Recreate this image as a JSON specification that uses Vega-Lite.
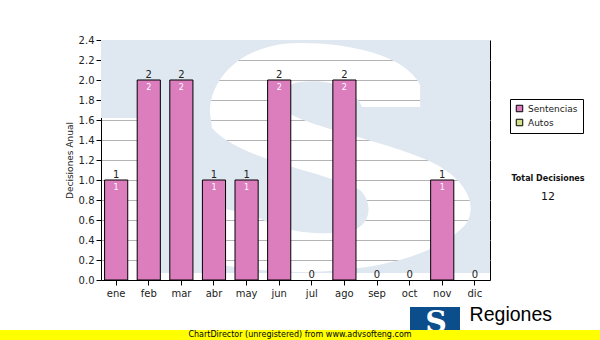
{
  "$schema": "https://vega.github.io/schema/vega-lite/v6.json",
  "padding": {"top": 34, "left": 0, "right": 0, "bottom": 0},
  "background": "white",
  "bounds": "flush",
  "spacing": 290,
  "config": {
    "font": "DejaVu Sans",
    "concat": {"spacing": 0}
  },
  "datasets": {
    "decisiones": [
      {"mes": "ene", "tipo": "Sentencias", "valor": 1},
      {"mes": "feb", "tipo": "Sentencias", "valor": 2},
      {"mes": "mar", "tipo": "Sentencias", "valor": 2},
      {"mes": "abr", "tipo": "Sentencias", "valor": 1},
      {"mes": "may", "tipo": "Sentencias", "valor": 1},
      {"mes": "jun", "tipo": "Sentencias", "valor": 2},
      {"mes": "jul", "tipo": "Sentencias", "valor": 0},
      {"mes": "ago", "tipo": "Sentencias", "valor": 2},
      {"mes": "sep", "tipo": "Sentencias", "valor": 0},
      {"mes": "oct", "tipo": "Sentencias", "valor": 0},
      {"mes": "nov", "tipo": "Sentencias", "valor": 1},
      {"mes": "dic", "tipo": "Sentencias", "valor": 0}
    ]
  },
  "vconcat": [
    {
      "bounds": "flush",
      "spacing": 0,
      "hconcat": [
        {
          "width": 101,
          "height": 240,
          "view": {"stroke": null},
          "data": {"values": [{"t": ""}]},
          "mark": {"type": "text"},
          "encoding": {"text": {"field": "t"}}
        },
        {
          "width": 389,
          "height": 240,
          "view": {"stroke": "black", "strokeWidth": 1},
          "layer": [
            {
              "data": {"values": [{"marca": "logo"}]},
              "mark": {
                "type": "point",
                "filled": true,
                "clip": true,
                "color": "#dfe8f1",
                "opacity": 1,
                "size": 160000,
                "shape": "M-1.003,-0.65L0.983,-0.65L0.983,0.565L-0.703,0.565L-0.703,-0.21L-1.003,-0.21Z M0.023,-0.585C-0.278,-0.585,-0.428,-0.4,-0.428,-0.24L-0.418,-0.16C-0.278,0,0.123,0.05,0.323,0.15C0.398,0.225,0.373,0.35,0.248,0.36C0.073,0.38,-0.103,0.35,-0.203,0.275L-0.453,0.225L-0.453,0.51C-0.2,0.56,0.023,0.56,0.023,0.56C0.3,0.56,0.673,0.51,0.848,0.325C0.923,0.225,0.848,0.075,0.633,-0.01C0.423,-0.1,0.023,-0.175,-0.053,-0.25C-0.088,-0.325,-0.053,-0.38,0.023,-0.39C0.173,-0.41,0.298,-0.36,0.333,-0.265L0.623,-0.265L0.623,-0.375C0.548,-0.525,0.273,-0.585,0.023,-0.585Z"
              },
              "encoding": {}
            },
            {
              "data": {"name": "decisiones"},
              "encoding": {
                "x": {
                  "field": "mes",
                  "type": "ordinal",
                  "sort": ["ene", "feb", "mar", "abr", "may", "jun", "jul", "ago", "sep", "oct", "nov", "dic"],
                  "scale": {"paddingInner": 0.29, "paddingOuter": 0.11},
                  "axis": {
                    "title": null,
                    "labelAngle": 0,
                    "labelFont": "DejaVu Sans",
                    "labelFontSize": 10,
                    "labelColor": "#222",
                    "labelPadding": 3,
                    "domainColor": "black",
                    "tickColor": "black",
                    "tickSize": 5,
                    "grid": false
                  }
                },
                "y": {
                  "field": "valor",
                  "type": "quantitative",
                  "scale": {"domain": [0, 2.4], "nice": false},
                  "axis": {
                    "title": "Decisiones Anual",
                    "titleFont": "DejaVu Sans",
                    "titleFontSize": 9,
                    "titleFontWeight": "normal",
                    "titleColor": "#222",
                    "titlePadding": 4,
                    "values": [0, 0.2, 0.4, 0.6, 0.8, 1.0, 1.2, 1.4, 1.6, 1.8, 2.0, 2.2, 2.4],
                    "format": ".1f",
                    "labelFont": "DejaVu Sans",
                    "labelFontSize": 10,
                    "labelColor": "#222",
                    "labelPadding": 2,
                    "domainColor": "black",
                    "tickColor": "black",
                    "tickSize": 5,
                    "grid": true,
                    "gridColor": "#b4b4b4",
                    "gridWidth": 1
                  }
                }
              },
              "layer": [
                {
                  "transform": [{"filter": "datum.valor > 0"}],
                  "mark": {"type": "bar", "stroke": "black", "strokeWidth": 1},
                  "encoding": {
                    "color": {
                      "field": "tipo",
                      "type": "nominal",
                      "scale": {"domain": ["Sentencias", "Autos"], "range": ["#dc7dbe", "#d2e08e"]},
                      "legend": {
                        "title": null,
                        "orient": "none",
                        "legendX": 510,
                        "legendY": 59,
                        "strokeColor": "black",
                        "fillColor": "white",
                        "padding": 5,
                        "symbolType": "square",
                        "symbolSize": 42,
                        "symbolStrokeColor": "black",
                        "symbolStrokeWidth": 1,
                        "symbolOpacity": 1,
                        "labelFont": "DejaVu Sans",
                        "labelFontSize": 9,
                        "labelColor": "#222",
                        "rowPadding": 3,
                        "labelOffset": 4
                      }
                    }
                  }
                },
                {
                  "mark": {"type": "text", "baseline": "alphabetic", "dy": -2, "fontSize": 10, "color": "#222"},
                  "encoding": {"text": {"field": "valor", "type": "quantitative"}}
                },
                {
                  "transform": [{"filter": "datum.valor > 0"}],
                  "mark": {"type": "text", "baseline": "alphabetic", "dy": 10, "fontSize": 8, "color": "white"},
                  "encoding": {"text": {"field": "valor", "type": "quantitative"}}
                }
              ]
            }
          ]
        },
        {
          "width": 116,
          "height": 240,
          "view": {"stroke": null},
          "data": {"name": "decisiones"},
          "transform": [{"aggregate": [{"op": "sum", "field": "valor", "as": "total"}]}],
          "layer": [
            {
              "mark": {"type": "text", "text": "Total Decisiones", "fontWeight": "bold", "fontSize": 8, "dy": 19, "color": "#111"},
              "encoding": {}
            },
            {
              "mark": {"type": "text", "fontSize": 11, "dy": 37, "color": "#111"},
              "encoding": {"text": {"field": "total", "type": "quantitative"}}
            },
            {
              "mark": {
                "type": "point",
                "filled": true,
                "color": "#0c4d8c",
                "opacity": 1,
                "size": 160000,
                "shape": "M-0.69,0.735L-0.44,0.735L-0.44,0.86L-0.69,0.86Z"
              },
              "encoding": {}
            },
            {
              "mark": {"type": "text", "text": "S", "font": "DejaVu Serif", "fontWeight": "bold", "fontSize": 30, "baseline": "alphabetic", "dx": -112, "dy": 172, "color": "white"},
              "encoding": {}
            }
          ]
        }
      ]
    },
    {
      "width": 600,
      "height": 10,
      "view": {"fill": "#ffff00", "stroke": null},
      "title": {
        "text": "Regiones",
        "anchor": "end",
        "font": "Liberation Sans",
        "fontSize": 19.5,
        "fontWeight": "normal",
        "color": "black",
        "baseline": "alphabetic",
        "offset": -10,
        "dx": -48
      },
      "data": {"values": [{"aviso": "ChartDirector (unregistered) from www.advsofteng.com"}]},
      "mark": {"type": "text", "fontSize": 8, "color": "black"},
      "encoding": {"text": {"field": "aviso"}}
    }
  ]
}
